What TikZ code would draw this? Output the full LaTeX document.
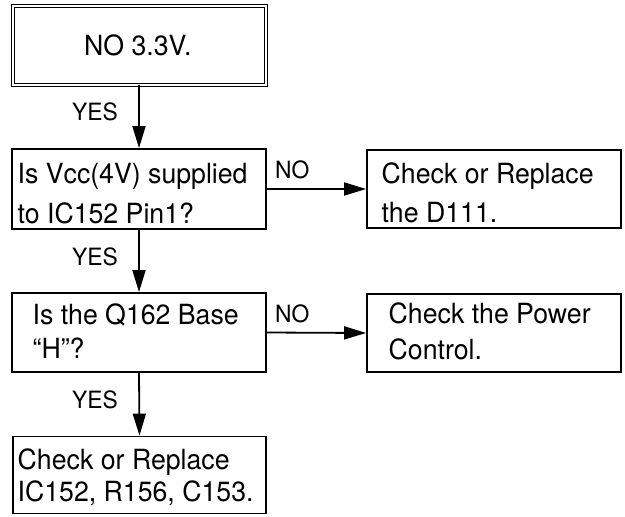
\documentclass[tikz,border=0pt]{standalone}
\usepackage{fontspec}
\setmainfont{TeX Gyre Heros}[FakeStretch=0.96]
\usetikzlibrary{arrows.meta}
\begin{document}
\begin{tikzpicture}[x=1pt,y=-1pt,
  box/.style={draw,line width=1.8pt,rectangle,inner sep=0pt},
  topbox/.style={draw,line width=1.1pt,double,double distance=2.2pt,rectangle,inner sep=0pt},
  txt/.style={anchor=base west,inner sep=0pt,font=\fontsize{27.8}{39}\selectfont},
  lbl/.style={anchor=base west,inner sep=0pt,font=\fontsize{23.8}{28}\selectfont},
  arr/.style={line width=1.8pt,-{Triangle[length=22pt,width=13pt]}}]
\useasboundingbox (0,0) rectangle (625,517);
% boxes
\node[topbox,minimum width=252.6pt,minimum height=78.6pt] (top) at (139.5,45.5) {};
\node[box,minimum width=254pt,minimum height=80pt] (q1) at (139,189) {};
\node[box,minimum width=254pt,minimum height=78pt] (a1) at (494,189) {};
\node[box,minimum width=254pt,minimum height=79pt] (q2) at (139,332.5) {};
\node[box,minimum width=254pt,minimum height=78pt] (a2) at (494,333) {};
\node[box,minimum width=253pt,minimum height=77pt] (a3) at (139.5,475) {};
% texts
\node[txt] (ttop) at (84,55) {NO 3.3V.};
\node[txt] (tq1a) at (17.5,183) {Is Vcc(4V) supplied};
\node[txt] (tq1b) at (17.5,223) {to IC152 Pin1?};
\node[txt] (ta1a) at (381.5,183) {Check or Replace};
\node[txt] (ta1b) at (381.5,222) {the D111.};
\node[txt] (tq2a) at (32.5,324) {Is the Q162 Base};
\node[txt] (tq2b) at (32.5,358) {“H”?};
\node[txt] (ta2a) at (388.5,323) {Check the Power};
\node[txt] (ta2b) at (388.5,359) {Control.};
\node[txt] (ta3a) at (17.5,469) {Check or Replace};
\node[txt] (ta3b) at (17.5,501) {IC152, R156, C153.};
% connectors
\draw[arr] (top.south -| q1.north) -- (q1.north);
\draw[arr] (q1.south) -- (q2.north);
\draw[arr] (q2.south) -- (a3.north);
\draw[arr] (q1.east) -- (a1.west);
\draw[arr] (q2.east) -- (a2.west);
% labels
\node[lbl] (y1) at (72,120.5) {YES};
\node[lbl] (y2) at (72,265) {YES};
\node[lbl] (y3) at (72,408) {YES};
\node[lbl] (n1) at (275,178) {NO};
\node[lbl] (n2) at (275,322) {NO};
\end{tikzpicture}
\end{document}
